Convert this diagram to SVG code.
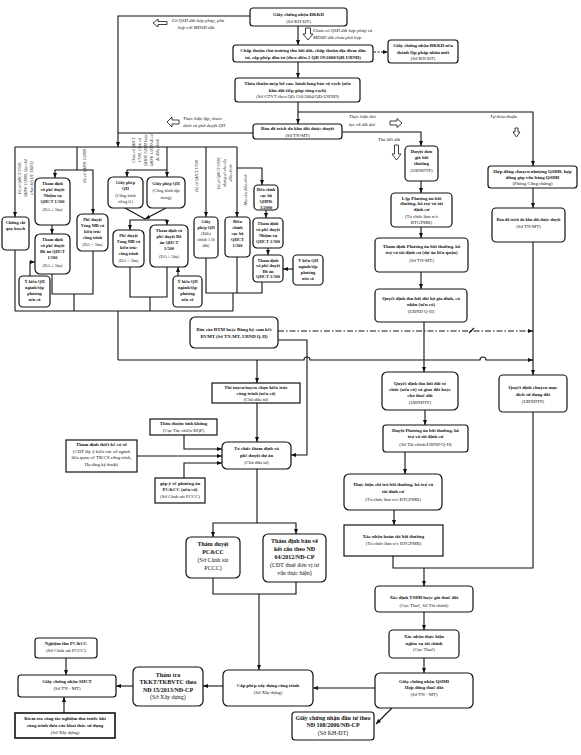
<svg xmlns="http://www.w3.org/2000/svg" width="581" height="755" viewBox="0 0 581 755">
<defs>
<marker id="a" viewBox="0 0 10 10" refX="10" refY="5" markerWidth="5" markerHeight="5" markerUnits="userSpaceOnUse" orient="auto"><path d="M0,1 L10,5 L0,9 z" fill="#111"/></marker>
</defs>
<style>
.b{fill:#fff;stroke:#111;stroke-width:1.2}
.t{font-family:"Liberation Serif",serif;font-size:4.8px;font-weight:bold;text-anchor:middle;fill:#111}
.n{font-weight:normal}
.s{font-size:4.4px}
.L{font-size:6px}
.i{font-family:"Liberation Serif",serif;font-size:4.8px;font-style:italic;fill:#111}
.r{font-size:4px;text-anchor:middle}
.c{fill:none;stroke:#111;stroke-width:1.1}
.e{marker-end:url(#a)}
.h{fill:#fff;stroke:#111;stroke-width:0.8}
</style>
<rect width="581" height="755" fill="#fff"/>

<g id="connectors">
<path class="c e" d="M250,16 H118 V147"/>
<path class="c e" d="M298,26 V45"/>
<path class="c e" d="M374,52 H388" stroke-dasharray="2,1.5"/>
<path class="c e" d="M298,62 V78"/>
<path class="c e" d="M298,102 V124"/>
<path class="c e" d="M298,112 H533 V166"/>
<path class="c" d="M253,133 H118"/>
<path class="c e" d="M342,132 H421 V146"/>
<path class="c" d="M15,147 H237"/>
<path class="c e" d="M15,147 V217"/>
<path class="c" d="M77,147 V170"/>
<path class="c e" d="M77,170 H55 V178"/>
<path class="c e" d="M77,170 H93 V214"/>
<path class="c" d="M167,147 V170"/>
<path class="c e" d="M167,170 V177"/>
<path class="c e" d="M167,170 H127 V177"/>
<path class="c e" d="M206,147 V217"/>
<path class="c e" d="M237,147 V217"/>
<path class="c e" d="M237,168 H262 V185"/>
<path class="c" d="M15,250 V311"/>
<path class="c e" d="M52,225 V234"/>
<path class="c e" d="M30,276 V262 H35"/>
<path class="c" d="M52,274 V294 H93 V251 M74,294 V311"/>
<path class="c" d="M125,208 L145,219"/>
<path class="c e" d="M166,208 L145,219"/>
<path class="c e" d="M145,220 H130 V230"/>
<path class="c e" d="M145,220 H167 V225"/>
<path class="c e" d="M178,276 V267"/>
<path class="c" d="M130,267 V297 H167 V267 M150,297 V311"/>
<path class="c e" d="M266,210 V218"/>
<path class="c e" d="M268,248 V255"/>
<path class="c e" d="M293,269 H283"/>
<path class="c" d="M206,258 V293 H262 V282 M237,257 V293 M233,293 V311"/>
<path class="c" d="M15,311 H233"/>
<path class="c" d="M118,311 V360"/>
<path class="c e" d="M118,360 H304 a3,3 0 0 1 6,0 H480 a3,3 0 0 1 6,0 H533"/>
<path class="c e" d="M257,360 V383"/>
<path class="c e" d="M424,322 V372"/>
<path class="c e" d="M278,331 H533" stroke-dasharray="6,2,1.5,2"/>
<path class="c" d="M469,333 L474,328"/>
<path class="c e" d="M278,340 H307 V455 H291"/>
<path class="c e" d="M533,188 V208"/>
<path class="c e" d="M533,242 V375"/>
<path class="c" d="M533,412 V568 H393 V556"/>
<path class="c e" d="M424,568 V586"/>
<path class="c e" d="M421,181 V193"/>
<path class="c e" d="M421,227 V238"/>
<path class="c e" d="M421,272 V289"/>
<path class="c e" d="M425,410 V425"/>
<path class="c e" d="M405,452 V474"/>
<path class="c e" d="M394,510 V525"/>
<path class="c e" d="M424,612 V630"/>
<path class="c e" d="M424,658 V673"/>
<path class="c e" d="M375,688 H313"/>
<path class="c e" d="M392,708 L376,724"/>
<path class="c e" d="M223,686 H203"/>
<path class="c e" d="M133,686 H116"/>
<path class="c e" d="M66,658 V675"/>
<path class="c e" d="M64,713 V697"/>
<path class="c e" d="M257,403 V442"/>
<path class="c e" d="M184,435 V449 H222"/>
<path class="c e" d="M137,456 H222"/>
<path class="c e" d="M184,478 V463 H222"/>
<path class="c" d="M257,469 V523"/>
<path class="c e" d="M257,523 H213 V537"/>
<path class="c e" d="M257,523 H296 V534"/>
<path class="c" d="M213,578 V594 H296 V582"/>
<path class="c e" d="M259,594 V670"/>
</g>

<g id="labels">
<polygon class="h" points="153,23 158,19 158,21.5 167,21.5 167,24.5 158,24.5 158,27"/>
<polygon class="h" points="305.5,28 310.5,28 310.5,34 313,34 308,40 303,34 305.5,34"/>
<polygon class="h" points="167,122 172,117 172,120 179,120 179,124 172,124 172,127"/>
<polygon class="h" points="402,123 397,118.5 397,121 390,121 390,125 397,125 397,127.5"/>
<polygon class="h" points="394.5,145 398.5,145 398.5,154 401,154 396.5,160 392,154 394.5,154"/>
<polygon class="h" points="515,128 518,128 518,132 520,132 516.5,137 513,132 515,132"/>
<text class="i" x="198" y="22" text-anchor="middle">Có QSD đất hợp pháp, phù</text>
<text class="i" x="196" y="29" text-anchor="middle">hợp với MĐSD đất</text>
<text class="i" x="313" y="32">Chưa có QSD đất hợp pháp và</text>
<text class="i" x="313" y="39">MĐSD đất chưa phù hợp</text>
<text class="i" x="183" y="120">Thực hiện lập, thẩm</text>
<text class="i" x="183" y="127">định và phê duyệt QH</text>
<text class="i" x="349" y="118">Thực hiện   thủ</text>
<text class="i" x="349" y="126">tục về đất đai</text>
<text class="i" x="378" y="141">Thu hồi đất</text>
<text class="i" x="490" y="118">Tự thỏa thuận</text>
<g class="i r">
<text transform="translate(21,178) rotate(-90)">Đã có QHCT 1/500,</text>
<text transform="translate(27,178) rotate(-90)">QHPK 1/2000, Quy chế</text>
<text transform="translate(33,178) rotate(-90)">(theo ĐA ĐT, TKĐT)</text>
<text transform="translate(86,166) rotate(-90)">Đã có QHPK 1/2000</text>
<text transform="translate(135,150) rotate(-90)">Chưa có QHCT</text>
<text transform="translate(141,150) rotate(-90)">1/500, Chưa có</text>
<text transform="translate(147,150) rotate(-90)">QHPK 1/2000 hoặc</text>
<text transform="translate(153,150) rotate(-90)">QHPK 1/2000 đã có</text>
<text transform="translate(159,150) rotate(-90)">đã điều chỉnh</text>
<text transform="translate(198,176) rotate(-90)">Đã có QHCT 1/500</text>
<text transform="translate(220,173) rotate(-90)">Đã có QHCT 1/500,</text>
<text transform="translate(226,173) rotate(-90)">nhưng có nhu cầu</text>
<text transform="translate(232,173) rotate(-90)">điều chỉnh</text>
<text transform="translate(247,190) rotate(-90)">Nhu cầu điều chỉnh</text>
</g>
</g>

<g class="t">
<g id="n-dkkd"><rect class="b" x="250" y="8" width="97" height="18" rx="3"/><text x="298.5" y="15.5">Giấy chứng nhận ĐKKD</text><text class="n" x="298.5" y="22.5">(Sở KH-ĐT)</text></g>
<g id="n-chapthuan"><rect class="b" x="233" y="45" width="140" height="17" rx="3"/><text x="303" y="51.5">Chấp thuận chủ trương thu hồi đất, chấp thuận địa điểm đầu</text><text x="303" y="58.5">tư, cấp phép đầu tư (theo điều 2 QĐ 19/2008/QĐ-UBND)</text></g>
<g id="n-dkkd2"><rect class="b" x="388" y="40" width="70" height="23" rx="3"/><text x="423" y="47">Giấy chứng nhận ĐKKD nếu</text><text x="423" y="53.5">thành lập pháp nhân mới</text><text class="n" x="423" y="60">(Sở KH-ĐT)</text></g>
<g id="n-thoathuan"><rect class="b" x="235" y="78" width="125" height="24" rx="3"/><text x="297.5" y="85">Thỏa thuận mép bờ cao, hành lang bảo vệ rạch (nếu</text><text x="297.5" y="91.5">khu đất tiếp giáp sông rạch)</text><text class="n" x="297.5" y="98">(Sở GTVT theo QĐ 150/2004/QĐ-UBND)</text></g>
<g id="n-bando"><rect class="b" x="253" y="124" width="89" height="15" rx="3"/><text x="297.5" y="130">Bản đồ trích đo khu đất được duyệt</text><text class="n" x="297.5" y="136.5">(Sở TN-MT)</text></g>

<g id="n-duyetdongia"><rect class="b" x="405" y="146" width="33" height="35" rx="4"/><text x="421.5" y="153">Duyệt đơn</text><text x="421.5" y="159">giá bồi</text><text x="421.5" y="165">thường</text><text class="n" x="421.5" y="172">(UBNDTP)</text></g>
<g id="n-lappa"><rect class="b" x="391" y="193" width="61" height="34" rx="4"/><text x="421.5" y="199.5">Lập Phương án bồi</text><text x="421.5" y="205">thường, hỗ trợ và tái</text><text x="421.5" y="210.5">định cư</text><text class="n" x="421.5" y="218">(Tổ chức làm n/v</text><text class="n" x="421.5" y="223.5">BTGPMB)</text></g>
<g id="n-thamdinhpa"><rect class="b" x="375" y="238" width="93" height="34" rx="4"/><text x="421.5" y="248">Thẩm định Phương án bồi thường, hỗ</text><text x="421.5" y="254">trợ và tái định cư (dự án liên quận)</text><text class="n" x="421.5" y="262">(Sở TN-MT)</text></g>
<g id="n-qdthuhoiho"><rect class="b" x="375" y="289" width="92" height="33" rx="4"/><text x="421" y="299.5">Quyết định thu hồi đất hộ gia đình, cá</text><text x="421" y="305.5">nhân (nếu có)</text><text class="n" x="421" y="313">(UBND Q-H)</text></g>
<g id="n-hopdong"><rect class="b" x="488" y="166" width="89" height="22" rx="3"/><text x="532.5" y="172.5">Hợp đồng chuyển nhượng QSDĐ, hợp</text><text x="532.5" y="178.5">đồng góp vốn bằng QSDĐ</text><text class="n" x="532.5" y="185">(Phòng Công chứng)</text></g>
<g id="n-bando2"><rect class="b" x="492" y="208" width="73" height="34" rx="4"/><text x="528.5" y="221" style="font-size:4.2px">Bản đồ trích đo khu đất được duyệt</text><text class="n" x="528.5" y="228">(Sở TN-MT)</text></g>
<g id="n-qdchuyenmd"><rect class="b" x="499" y="375" width="68" height="37" rx="4"/><text x="533" y="389">Quyết định chuyển mục</text><text x="533" y="395.5">đích sử dụng đất</text><text class="n" x="533" y="402.5">(UBNDTP)</text></g>
<g id="n-qdthuhoitc"><rect class="b" x="382" y="372" width="76" height="38" rx="5"/><text x="420" y="385">Quyết định thu hồi đất tổ</text><text x="420" y="391">chức (nếu có) và giao đất hoặc</text><text x="420" y="397">cho thuê đất</text><text class="n" x="420" y="404">(UBNDTP)</text></g>
<g id="n-duyetpa"><rect class="b" x="383" y="425" width="85" height="27" rx="3"/><text x="425.5" y="431.5">Duyệt Phương án bồi thường, hỗ</text><text x="425.5" y="438">trợ và tái định cư</text><text class="n" x="425.5" y="445.5">(Sở Tài chính/UBND Q-H)</text></g>
<g id="n-chitra"><rect class="b" x="344" y="474" width="98" height="36" rx="5"/><text x="393" y="486">Thực hiện chi trả bồi thường, hỗ trợ và</text><text x="393" y="492.5">tái định cư</text><text class="n" x="393" y="501">(Tổ chức làm n/v BTGPMB)</text></g>
<g id="n-hoantat"><rect class="b" x="344" y="525" width="99" height="31"/><text x="393.5" y="537.5">Xác nhận hoàn tất bồi thường</text><text class="n" x="393.5" y="545">(Tổ chức làm n/v BTGPMB)</text></g>
<g id="n-tsdd"><rect class="b" x="375" y="586" width="98" height="26" rx="4"/><text x="424" y="599">Xác định TSDĐ hoặc giá thuê đất</text><text class="n" x="424" y="606.5">(Cục Thuế, Sở Tài chính)</text></g>
<g id="n-nvtc"><rect class="b" x="389" y="630" width="70" height="28" rx="4"/><text x="424" y="638">Xác nhận thực hiện</text><text x="424" y="644.5">nghĩa vụ tài chính</text><text class="n" x="424" y="651">(Cục Thuế)</text></g>
<g id="n-qsdd"><rect class="b" x="375" y="673" width="98" height="35" rx="5"/><text x="424" y="682.5">Giấy chứng nhận QSDĐ</text><text x="424" y="689">Hợp đồng thuê đất</text><text class="n" x="424" y="696">(Sở TN - MT)</text></g>
<g id="n-dautu" class="L"><rect class="b" x="292" y="712" width="82" height="28" rx="3"/><text x="333" y="720">Giấy chứng nhận đầu tư theo</text><text x="333" y="727">NĐ 108/2006/NĐ-CP</text><text class="n" x="333" y="734.5">(Sở KH-ĐT)</text></g>
<g id="n-capphep"><rect class="b" x="223" y="670" width="90" height="36" rx="5"/><text x="268" y="686.5">Cấp phép xây dựng công trình</text><text class="n" x="268" y="693.5">(Sở Xây dựng)</text></g>
<g id="n-thamtra" class="L"><rect class="b" x="133" y="667" width="70" height="39" rx="5"/><text x="168" y="676.5">Thẩm tra</text><text x="168" y="684">TKKT/TKBVTC theo</text><text x="168" y="691.5">NĐ 15/2013/NĐ-CP</text><text class="n" x="168" y="699">(Sở Xây dựng)</text></g>
<g id="n-shct"><rect class="b" x="18" y="675" width="98" height="22" rx="3"/><text x="67" y="683">Giấy chứng nhận SHCT</text><text class="n" x="67" y="690">(Sở TN - MT)</text></g>
<g id="n-nghiemthu"><rect class="b" x="35" y="638" width="62" height="20" rx="3"/><text x="66" y="645">Nghiệm thu PC&amp;CC</text><text class="n" x="66" y="652">(Sở Cảnh sát PCCC)</text></g>
<g id="n-kiemtra"><rect class="b" x="15" y="713" width="100" height="25" style="stroke-width:1.6"/><text x="65" y="720">Kiểm tra công tác nghiệm thu trước khi</text><text x="65" y="726.5">công trình đưa vào khai thác sử dụng</text><text class="n" x="65" y="734">(Sở Xây dựng)</text></g>
<g id="n-pccc" class="L"><rect class="b" x="186" y="537" width="54" height="41" rx="5"/><text x="213" y="545.5">Thẩm duyệt</text><text x="213" y="553.5">PC&amp;CC</text><text class="n" x="213" y="562">(Sở Cảnh sát</text><text class="n" x="213" y="570">PCCC)</text></g>
<g id="n-banve" class="L"><rect class="b" x="263" y="534" width="63" height="48" rx="5"/><text x="294.5" y="543">Thẩm định bản vẽ</text><text x="294.5" y="551">kết cấu theo NĐ</text><text x="294.5" y="559">64/2012/NĐ-CP</text><text class="n" x="294.5" y="567">(CĐT thuê đơn vị tư</text><text class="n" x="294.5" y="575">vấn thực hiện)</text></g>
<g id="n-tochuc"><rect class="b" x="222" y="442" width="69" height="27" rx="5"/><text x="256.5" y="449.5">Tổ chức thẩm định và</text><text x="256.5" y="456.5">phê duyệt dự án</text><text class="n" x="256.5" y="463.5">(Chủ đầu tư)</text></g>
<g id="n-thituyen"><rect class="b" x="212" y="383" width="88" height="20"/><text x="256" y="388.5">Thi tuyển/tuyển chọn kiến trúc</text><text x="256" y="394.5">công trình (nếu có)</text><text class="n" x="256" y="400.5">(Chủ đầu tư)</text></g>
<g id="n-tinhkhong"><rect class="b" x="150" y="419" width="67" height="16"/><text x="183.5" y="425">Thỏa thuận tĩnh không</text><text class="n" x="183.5" y="431.5">(Cục Tác chiến-BQP)</text></g>
<g id="n-tkcs"><rect class="b" x="66" y="440" width="71" height="32"/><text x="101.5" y="446">Thẩm định thiết kế cơ sở</text><text class="n" x="101.5" y="452.5">(CĐT lấy ý kiến các sở ngành</text><text class="n" x="101.5" y="459">liên quan về TK/CS công trình,</text><text class="n" x="101.5" y="465.5">Hạ tầng kỹ thuật)</text></g>
<g id="n-gopy"><rect class="b" x="155" y="478" width="50" height="25"/><text x="180" y="484.5">góp ý về phương án</text><text x="180" y="490.5">PC&amp;CC (nếu có)</text><text class="n" x="180" y="497.5">(Sở Cảnh sát PCCC)</text></g>
<g id="n-dtm"><rect class="b" x="190" y="317" width="88" height="31" rx="5"/><text x="234" y="330.5">Báo cáo ĐTM hoặc Đăng ký cam kết</text><text x="234" y="337.5">BVMT (Sở TN-MT, UBND Q-H)</text></g>

<g class="s">
<g id="n-chungchi"><rect class="b" x="2" y="217" width="27" height="33" rx="4"/><text x="15.5" y="224">Chứng chỉ</text><text x="15.5" y="230">quy hoạch</text></g>
<g id="n-nv1"><rect class="b" x="35" y="178" width="35" height="47" rx="5"/><text x="52.5" y="185">Thẩm định</text><text x="52.5" y="191">và phê duyệt</text><text x="52.5" y="197">Nhiệm vụ</text><text x="52.5" y="203">QHCT 1/500</text><text class="n" x="52.5" y="211">(DA ≥ 5ha)</text></g>
<g id="n-da1"><rect class="b" x="35" y="234" width="35" height="40" rx="5"/><text x="52.5" y="241">Thẩm định</text><text x="52.5" y="247">và phê duyệt</text><text x="52.5" y="253">Đồ án QHCT</text><text x="52.5" y="259">1/500</text><text class="n" x="52.5" y="267">(DA ≥ 5ha)</text></g>
<g id="n-yk1"><rect class="b" x="19" y="276" width="31" height="31" rx="4"/><text x="34.5" y="283">Ý kiến QH</text><text x="34.5" y="289">ngành/tập</text><text x="34.5" y="295">phương</text><text x="34.5" y="301">nếu có</text></g>
<g id="n-pd1"><rect class="b" x="77" y="214" width="31" height="37" rx="5"/><text x="92.5" y="221">Phê duyệt</text><text x="92.5" y="227">Tổng MB và</text><text x="92.5" y="233">kiến trúc</text><text x="92.5" y="239">công trình</text><text class="n" x="92.5" y="246">(DA &lt; 5ha)</text></g>
<g id="n-gp1"><rect class="b" x="108" y="177" width="35" height="31" rx="5"/><text x="125.5" y="184">Giấy phép</text><text x="125.5" y="190">QH</text><text class="n" x="125.5" y="197">(Công trình</text><text class="n" x="125.5" y="203">riêng lẻ)</text></g>
<g id="n-gp2"><rect class="b" x="147" y="177" width="38" height="31" rx="5"/><text x="166" y="185">Giấy phép QH</text><text class="n" x="166" y="192">(Công trình tập</text><text class="n" x="166" y="198.5">trung)</text></g>
<g id="n-pd2"><rect class="b" x="113" y="230" width="31" height="37" rx="5"/><text x="128.5" y="237">Phê duyệt</text><text x="128.5" y="243">Tổng MB và</text><text x="128.5" y="249">kiến trúc</text><text x="128.5" y="255">công trình</text><text class="n" x="128.5" y="262">(DA &lt; 5ha)</text></g>
<g id="n-da2"><rect class="b" x="150" y="225" width="38" height="42" rx="5"/><text x="169" y="232">Thẩm định và</text><text x="169" y="238">phê duyệt Đồ</text><text x="169" y="244">án QHCT</text><text x="169" y="250">1/500</text><text class="n" x="169" y="258">(DA ≥ 5ha)</text></g>
<g id="n-yk2"><rect class="b" x="173" y="276" width="29" height="31" rx="4"/><text x="187.5" y="283">Ý kiến QH</text><text x="187.5" y="289">ngành/tập</text><text x="187.5" y="295">phương</text><text x="187.5" y="301">nếu có</text></g>
<g id="n-gp3"><rect class="b" x="194" y="217" width="24" height="41" rx="4"/><text x="206" y="223">Giấy</text><text x="206" y="229">phép QH</text><text class="n" x="206" y="235">(Điều</text><text class="n" x="206" y="241">chỉnh 1 lô</text><text class="n" x="206" y="247">đất)</text></g>
<g id="n-dcqhct"><rect class="b" x="225" y="217" width="25" height="40" rx="4"/><text x="237.5" y="223">Điều</text><text x="237.5" y="229">chỉnh</text><text x="237.5" y="235">cục bộ</text><text x="237.5" y="241">QHCT</text><text x="237.5" y="247">1/500</text></g>
<g id="n-dcqhpk"><rect class="b" x="254" y="185" width="24" height="25" rx="4"/><text x="266" y="191" style="font-size:4px">Điều chỉnh</text><text x="266" y="197">cục bộ</text><text x="266" y="203">QHPK</text><text x="266" y="208.5">1/2000</text></g>
<g id="n-nv3"><rect class="b" x="253" y="218" width="30" height="30" rx="4"/><text x="268" y="224.5">Thẩm định</text><text x="268" y="230.5">và phê duyệt</text><text x="268" y="236.5">Nhiệm vụ</text><text x="268" y="242.5">QHCT 1/500</text></g>
<g id="n-da3"><rect class="b" x="253" y="255" width="30" height="27" rx="4"/><text x="268" y="261.5">Thẩm định</text><text x="268" y="267">và phê duyệt</text><text x="268" y="272.5">Đồ án</text><text x="268" y="278">QHCT 1/500</text></g>
<g id="n-yk3"><rect class="b" x="293" y="255" width="30" height="30" rx="4"/><text x="308" y="262">Ý kiến QH</text><text x="308" y="268">ngành/tập</text><text x="308" y="274">phương</text><text x="308" y="280">nếu có</text></g>
</g>
</g>
</svg>
